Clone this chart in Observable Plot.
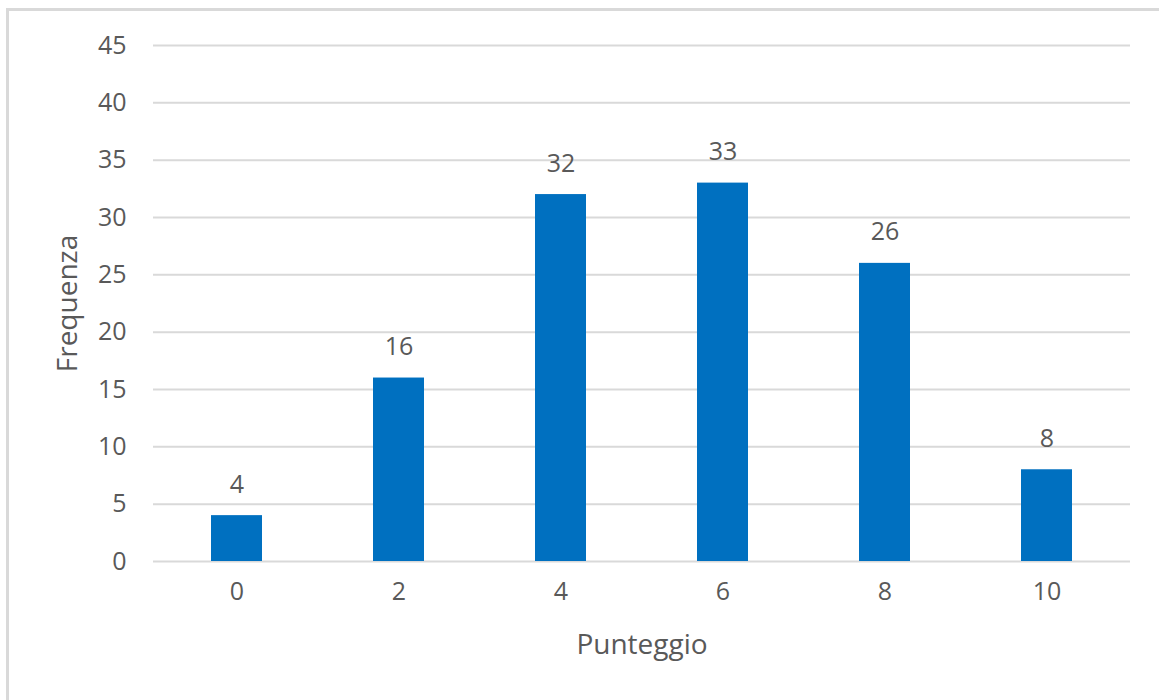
<!DOCTYPE html>
<html>
<head>
<meta charset="utf-8">
<script src="https://cdn.jsdelivr.net/npm/d3@7"></script>
<script src="https://cdn.jsdelivr.net/npm/@observablehq/plot@0.6"></script>
<style>
  html, body { margin: 0; padding: 0; background: #fff; overflow: hidden; }
  #frame { position: absolute; left: 6px; top: 8px; width: 1300px; height: 900px;
           border-top: 3px solid #d9d9d9; border-left: 3px solid #d9d9d9; box-sizing: border-box; }
  #chart { position: absolute; left: 0; top: 0; }
  #chart svg { font-family: "Open Sans", sans-serif; }
</style>
</head>
<body>
<div id="frame"></div>
<div id="chart"></div>
<script>
const scores = ["0", "2", "4", "6", "8", "10"];
const counts = [4, 16, 32, 33, 26, 8];
const yTicks = [0, 5, 10, 15, 20, 25, 30, 35, 40, 45];
const xTitle = "Punteggio";
const yTitle = "Frequenza";

const data = scores.map((s, i) => ({score: s, count: counts[i]}));
const textColor = "#595959";

const chart = Plot.plot({
  width: 1159,
  height: 700,
  marginLeft: 153,
  marginRight: 29,
  marginTop: 45,
  marginBottom: 139,
  style: {fontSize: "25px", color: textColor, background: "transparent", overflow: "visible"},
  x: {domain: scores, paddingInner: 0.687, paddingOuter: 0.3435, axis: null},
  y: {domain: [0, 45], axis: null},
  marks: [
    Plot.gridY(yTicks, {stroke: "#d9d9d9", strokeOpacity: 1, strokeWidth: 2}),
    Plot.axisY(yTicks, {tickSize: 0, tickPadding: 27, fill: textColor, fontSize: 25, label: null}),
    Plot.axisX(scores, {tickSize: 0, tickPadding: 21, fill: textColor, fontSize: 25, label: null}),
    Plot.barY(data, {x: "score", y: "count", fill: "#0070C0"}),
    Plot.text(data, {x: "score", y: "count", text: d => String(d.count), dy: -31, lineAnchor: "middle", fill: textColor, fontSize: 25}),
    Plot.text([xTitle], {frameAnchor: "bottom", dy: 84, textAnchor: "middle", lineAnchor: "middle", fill: textColor, fontSize: 28}),
    Plot.text([yTitle], {frameAnchor: "left", dx: -85, rotate: -90, textAnchor: "middle", lineAnchor: "middle", fill: textColor, fontSize: 28})
  ]
});
document.getElementById("chart").appendChild(chart);
</script>
</body>
</html>
